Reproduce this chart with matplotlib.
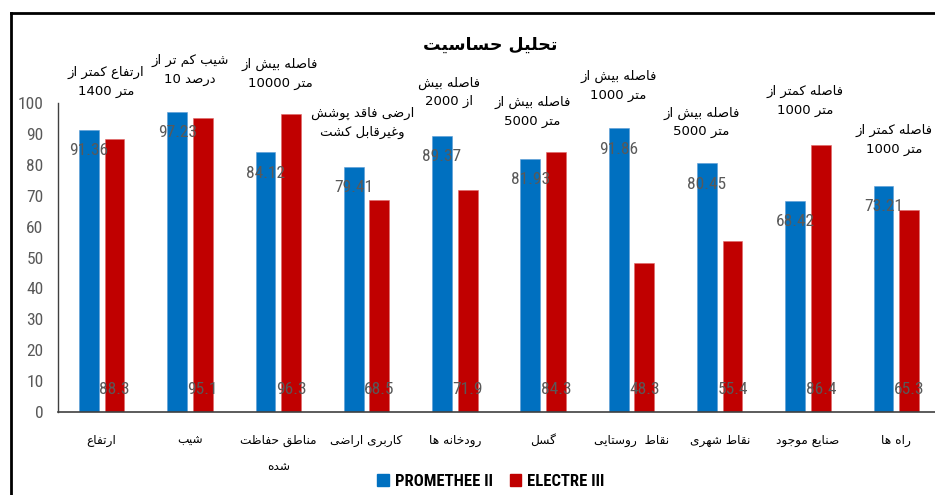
import matplotlib
matplotlib.use("Agg")
import matplotlib.pyplot as plt
from matplotlib import font_manager
from matplotlib.lines import Line2D
from matplotlib.patches import Patch
import numpy as np

# ---------------------------------------------------------------------------
# Data
# ---------------------------------------------------------------------------
categories = ["ارتفاع", "شیب", "مناطق حفاظت\nشده", "کاربری اراضی", "رودخانه ها",
              "گسل", "نقاط  روستایی", "نقاط شهری", "صنایع موجود", "راه ها"]
promethee = [91.36, 97.23, 84.12, 79.41, 89.37, 81.93, 91.86, 80.45, 68.42, 73.21]
electre = [88.3, 95.1, 96.3, 68.5, 71.9, 84.3, 48.3, 55.4, 86.4, 65.3]
conditions = [
    "ارتفاع کمتر از\n1400 متر",
    "شیب کم تر از\n10 درصد",
    "فاصله بیش از\n10000 متر",
    "ارضی فاقد پوشش\nوغیرقابل کشت",
    "فاصله بیش\n2000 از",
    "فاصله بیش از\n5000 متر",
    "فاصله بیش از\n1000 متر",
    "فاصله بیش از\n5000 متر",
    "فاصله کمتر از\n1000 متر",
    "فاصله کمتر از\n1000 متر",
]
title = "تحلیل حساسیت"
series_names = ["PROMETHEE II", "ELECTRE III"]

# where the condition notes sit (x shift in category units, y in data units)
cond_dx = [0.05, 0.0, 0.02, -0.05, -0.07, -0.12, -0.15, -0.21, -0.03, -0.03]
cond_y = [106.8, 110.8, 109.4, 93.5, 103.4, 97.2, 105.5, 93.7, 100.6, 88.0]

# ---------------------------------------------------------------------------
# Minimal Arabic/Persian shaping + bidi (matplotlib has no text shaping)
# ---------------------------------------------------------------------------
FORMS = {
    "\u0627": ("\uFE8D", "\uFE8E", None, None),
    "\u0628": ("\uFE8F", "\uFE90", "\uFE91", "\uFE92"),
    "\u062A": ("\uFE95", "\uFE96", "\uFE97", "\uFE98"),
    "\u062C": ("\uFE9D", "\uFE9E", "\uFE9F", "\uFEA0"),
    "\u062D": ("\uFEA1", "\uFEA2", "\uFEA3", "\uFEA4"),
    "\u062E": ("\uFEA5", "\uFEA6", "\uFEA7", "\uFEA8"),
    "\u062F": ("\uFEA9", "\uFEAA", None, None),
    "\u0631": ("\uFEAD", "\uFEAE", None, None),
    "\u0632": ("\uFEAF", "\uFEB0", None, None),
    "\u0633": ("\uFEB1", "\uFEB2", "\uFEB3", "\uFEB4"),
    "\u0634": ("\uFEB5", "\uFEB6", "\uFEB7", "\uFEB8"),
    "\u0635": ("\uFEB9", "\uFEBA", "\uFEBB", "\uFEBC"),
    "\u0636": ("\uFEBD", "\uFEBE", "\uFEBF", "\uFEC0"),
    "\u0637": ("\uFEC1", "\uFEC2", "\uFEC3", "\uFEC4"),
    "\u0638": ("\uFEC5", "\uFEC6", "\uFEC7", "\uFEC8"),
    "\u0639": ("\uFEC9", "\uFECA", "\uFECB", "\uFECC"),
    "\u063A": ("\uFECD", "\uFECE", "\uFECF", "\uFED0"),
    "\u0641": ("\uFED1", "\uFED2", "\uFED3", "\uFED4"),
    "\u0642": ("\uFED5", "\uFED6", "\uFED7", "\uFED8"),
    "\u0644": ("\uFEDD", "\uFEDE", "\uFEDF", "\uFEE0"),
    "\u0645": ("\uFEE1", "\uFEE2", "\uFEE3", "\uFEE4"),
    "\u0646": ("\uFEE5", "\uFEE6", "\uFEE7", "\uFEE8"),
    "\u0647": ("\uFEE9", "\uFEEA", "\uFEEB", "\uFEEC"),
    "\u0648": ("\uFEED", "\uFEEE", None, None),
    "\u067E": ("\uFB56", "\uFB57", "\uFB58", "\uFB59"),
    "\u0686": ("\uFB7A", "\uFB7B", "\uFB7C", "\uFB7D"),
    "\u0698": ("\uFB8A", "\uFB8B", None, None),
    "\u06A9": ("\uFB8E", "\uFB8F", "\uFB90", "\uFB91"),
    "\u06AF": ("\uFB92", "\uFB93", "\uFB94", "\uFB95"),
    "\u06CC": ("\uFBFC", "\uFBFD", "\uFBFE", "\uFBFF"),
}


def _dual(c):
    return c in FORMS and FORMS[c][2] is not None


def _shape(s):
    out = []
    for i, ch in enumerate(s):
        if ch not in FORMS:
            out.append(ch)
            continue
        prev = s[i - 1] if i > 0 else ""
        nxt = s[i + 1] if i + 1 < len(s) else ""
        p = _dual(prev)
        n = _dual(ch) and nxt in FORMS
        iso, fin, ini, med = FORMS[ch]
        out.append(med if p and n else fin if p else ini if n else iso)
    return "".join(out)


def _is_rtl(c):
    return ("\u0600" <= c <= "\u06FF" or "\uFB50" <= c <= "\uFDFF"
            or "\uFE70" <= c <= "\uFEFF")


def _visual_line(s):
    sh = _shape(s)
    kinds = ["R" if _is_rtl(c) else ("N" if c == " " else "L") for c in sh]
    for i, k in enumerate(kinds):
        if k != "N":
            continue
        left = next((kinds[j] for j in range(i - 1, -1, -1) if kinds[j] != "N"), "L")
        right = next((kinds[j] for j in range(i + 1, len(kinds)) if kinds[j] != "N"), "L")
        kinds[i] = "R" if left == "R" and right == "R" else "L"
    res, run = [], []
    for c, k in zip(sh, kinds):
        if k == "R":
            run.append(c)
        else:
            res.extend(reversed(run))
            run = []
            res.append(c)
    res.extend(reversed(run))
    return "".join(res)


def fa(s):
    return "\n".join(_visual_line(line) for line in s.split("\n"))


def _pick(names):
    have = {f.name for f in font_manager.fontManager.ttflist}
    for n in names:
        if n in have:
            return n
    return "DejaVu Sans"


num_font = _pick(["Liberation Sans Narrow", "DejaVu Sans Condensed", "Roboto Condensed",
                  "Liberation Sans"])
ar_font = "DejaVu Sans"

# ---------------------------------------------------------------------------
# Plot
# ---------------------------------------------------------------------------
fig = plt.figure(figsize=(9.35, 4.95), dpi=100)
ax = fig.add_axes([57.5 / 935, 83 / 495, 883 / 935, 309 / 495])

x = np.arange(len(categories))
w = 0.225
off = 0.145
blue, red = "#0070C0", "#C00000"
ax.bar(x - off, promethee, w, color=blue, edgecolor="#5B9BD5", linewidth=0.4)
ax.bar(x + off, electre, w, color=red, edgecolor="#E06666", linewidth=0.4)

for i in range(len(categories)):
    ax.text(x[i] - off, promethee[i] - 6.8, f"{promethee[i]:.2f}", ha="center", va="center",
            fontsize=12.5, color="#595959", family=num_font)
    ax.text(x[i] + off, 7.4, f"{electre[i]:.1f}", ha="center", va="center",
            fontsize=12.5, color="#595959", family=num_font)
    ax.text(x[i] + cond_dx[i], cond_y[i], fa(conditions[i]), ha="center", va="center",
            fontsize=9.5, color="black", family=ar_font, linespacing=1.55, clip_on=False)

ax.set_xlim(-0.5, len(categories) - 0.5)
ax.set_ylim(0, 100)
ax.set_yticks(range(0, 101, 10))
ax.set_xticks(x)
ax.set_xticklabels([fa(c) for c in categories], family=ar_font, fontsize=8.7,
                   linespacing=2.3, va="top")
ax.tick_params(axis="x", length=0, pad=16, colors="black")
ax.tick_params(axis="y", length=0, pad=10, labelsize=12.5, colors="#595959")
for lab in ax.get_yticklabels():
    lab.set_family(num_font)
for s in ["top", "right"]:
    ax.spines[s].set_visible(False)
ax.spines["left"].set_color("#404040")
ax.spines["bottom"].set_color("#404040")
ax.spines["left"].set_linewidth(1.0)
ax.spines["bottom"].set_linewidth(1.2)

fig.text(490 / 935, 1 - 45 / 495, fa(title), ha="center", va="center",
         fontsize=12.5, fontweight="bold", family=ar_font)

handles = [Patch(color=blue), Patch(color=red)]
fig.legend(handles, series_names, loc="center", bbox_to_anchor=(491 / 935, 1 - 481 / 495),
           ncol=2, frameon=False, handlelength=0.7, handleheight=0.7, handletextpad=0.35,
           columnspacing=1.0, prop={"family": num_font, "weight": "bold", "size": 12})

# the black frame (top and left edges only visible in the original)
fig.add_artist(Line2D([11 / 935, 1], [1 - 12.5 / 495, 1 - 12.5 / 495], color="black", lw=2))
fig.add_artist(Line2D([11 / 935, 11 / 935], [0, 1 - 12.5 / 495], color="black", lw=2))

plt.savefig("out.png", dpi=100)
plt.close()
